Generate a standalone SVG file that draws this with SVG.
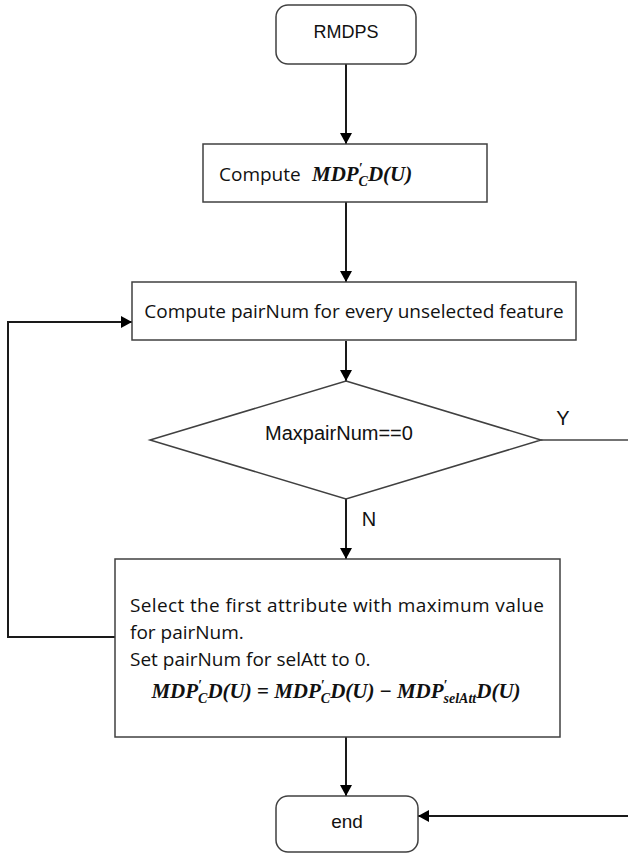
<svg xmlns="http://www.w3.org/2000/svg" width="628" height="853" viewBox="0 0 628 853">
<defs>
<style>
.box{fill:#fff;stroke:#404040;stroke-width:1.5}
.conn{stroke:#1a1a1a;stroke-width:2;fill:none}
.lbl{font-family:"Liberation Sans",Arial,sans-serif;fill:#111}
.txt{font-family:"Open Sans","Noto Sans",sans-serif;font-size:19px;fill:#111}
.math{font-family:"Liberation Serif","Times New Roman",serif;font-style:italic;font-weight:bold;font-size:21px;fill:#111}
.sm{font-size:14px}
.up{font-style:normal}
</style>
<marker id="arr" viewBox="0 0 11 12" refX="11" refY="6" markerWidth="11" markerHeight="12" markerUnits="userSpaceOnUse" orient="auto">
<path d="M0,0 L11,6 L0,12 z" fill="#000"/>
</marker>
</defs>
<rect width="628" height="853" fill="#fff"/>
<g id="connectors">
<path class="conn" d="M346,64 V144" marker-end="url(#arr)"/>
<path class="conn" d="M346,202 V282" marker-end="url(#arr)"/>
<path class="conn" d="M346,341 V381" marker-end="url(#arr)"/>
<path class="conn" d="M346,499 V559" marker-end="url(#arr)"/>
<path class="conn" d="M346,737 V796" marker-end="url(#arr)"/>
<path class="conn" d="M115,637 H8 V322 H132" marker-end="url(#arr)"/>
<path class="conn" d="M541,440 H628" style="stroke:#444;stroke-width:1.5"/>
<path class="conn" d="M628,816 H418" marker-end="url(#arr)"/>
<text class="lbl" x="563" y="425" font-size="20" text-anchor="middle">Y</text>
<text class="lbl" x="369" y="526" font-size="20" text-anchor="middle">N</text>
</g>
<g id="start">
<rect class="box" x="276" y="5" width="140" height="59" rx="12"/>
<text class="lbl" x="346" y="38" font-size="18" text-anchor="middle">RMDPS</text>
</g>
<g id="compute-mdp">
<rect class="box" x="203" y="144" width="284" height="58"/>
<text class="txt" x="219" y="181">Compute</text>
<text class="math" x="312" y="181">MDP<tspan class="sm" dy="-8">′</tspan><tspan class="sm" dx="-4" dy="13">C</tspan><tspan dy="-5">D(U)</tspan></text>
</g>
<g id="compute-pairnum">
<rect class="box" x="132" y="282" width="444" height="58"/>
<text class="txt" x="354" y="318" text-anchor="middle">Compute pairNum for every unselected feature</text>
</g>
<g id="decision">
<polygon class="box" points="346,381 541,440 346,499 150,440"/>
<text class="lbl" x="339" y="440" font-size="20" text-anchor="middle">MaxpairNum==0</text>
</g>
<g id="select">
<rect class="box" x="115" y="559" width="445" height="178"/>
<text class="txt" x="130" y="612" textLength="414" lengthAdjust="spacing">Select the first attribute with maximum value</text>
<text class="txt" x="130" y="639">for pairNum.</text>
<text class="txt" x="130" y="666">Set pairNum for selAtt to 0.</text>
<text class="math" x="336" y="698" text-anchor="middle">MDP<tspan class="sm" dy="-8">′</tspan><tspan class="sm" dx="-4" dy="13">C</tspan><tspan dy="-5">D(U) <tspan class="up">=</tspan> MDP</tspan><tspan class="sm" dy="-8">′</tspan><tspan class="sm" dx="-4" dy="13">C</tspan><tspan dy="-5">D(U) <tspan class="up">−</tspan> MDP</tspan><tspan class="sm" dy="-8">′</tspan><tspan class="sm" dx="-4" dy="13">selAtt</tspan><tspan dy="-5">D(U)</tspan></text>
</g>
<g id="end">
<rect class="box" x="276" y="796" width="142" height="56" rx="12"/>
<text class="lbl" x="347" y="828" font-size="19" text-anchor="middle">end</text>
</g>
</svg>
